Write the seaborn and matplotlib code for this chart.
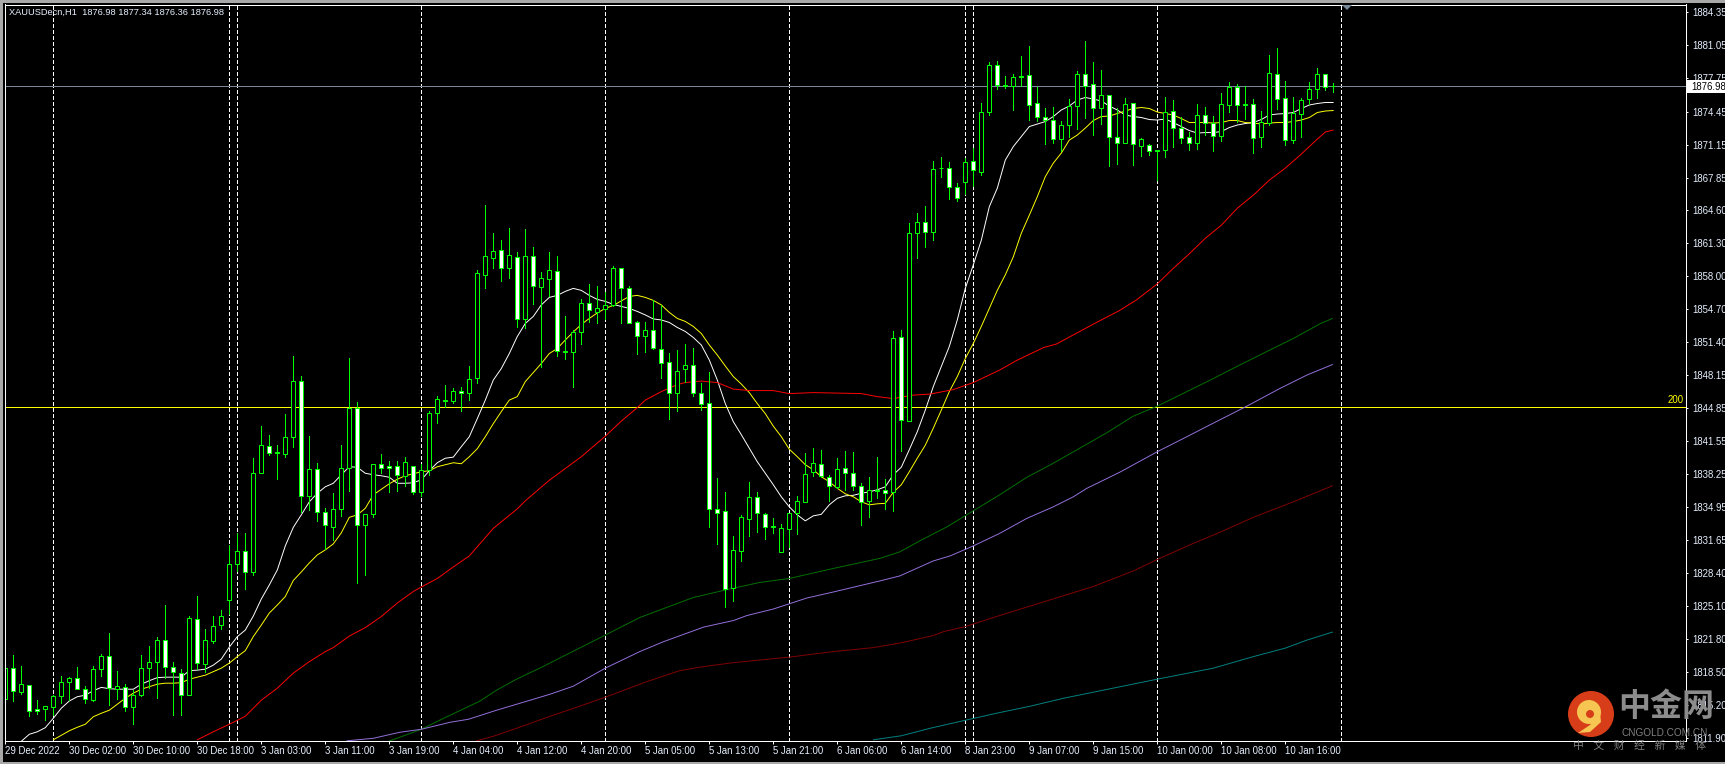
import matplotlib
matplotlib.use("Agg")
import matplotlib.pyplot as plt
from matplotlib.patches import Circle, Rectangle, Polygon
import numpy as np
import pandas as pd
import seaborn as sns

# ---------- candles (XAUUSD H1) ----------
open_ = [1815.78,1818.94,1816.55,1817.25,1814.79,1814.79,1814.99,1816.15,1817.55,1817.88,1816.85,1815.72,1818.78,1820.07,1816.85,1817.05,1814.99,1816.18,1818.88,1819.48,
1821.67,1818.98,1818.44,1816.18,1823.84,1819.28,1821.57,1823.17,1825.67,1829.26,1830.62,1828.46,1838.41,1841.10,1840.44,1840.30,1841.99,1847.51,1836.05,1838.81,
1834.45,1833.02,1834.75,1838.84,1844.82,1833.15,1834.31,1839.24,1839.04,1839.04,1838.04,1839.11,1836.44,1838.64,1844.32,1845.65,1845.59,1846.60,1846.38,1847.81,
1858.16,1859.86,1860.59,1858.79,1859.89,1853.70,1859.99,1856.90,1857.76,1858.49,1850.54,1850.41,1852.41,1855.30,1854.40,1854.70,1855.11,1858.80,1856.80,1853.41,
1852.01,1852.61,1850.72,1849.42,1846.33,1848.72,1849.12,1846.33,1845.33,1834.75,1834.55,1826.86,1830.62,1833.82,1835.95,1834.25,1833.05,1830.52,1832.75,1834.35,
1835.45,1838.51,1839.24,1837.94,1837.01,1838.84,1838.34,1837.04,1835.55,1836.68,1836.64,1836.44,1851.91,1843.53,1862.29,1863.39,1862.39,1868.85,1868.85,1866.95,
1867.38,1869.54,1868.45,1874.37,1879.13,1877.13,1876.96,1877.96,1878.06,1875.27,1873.87,1873.57,1871.67,1873.07,1874.97,1878.16,1877.16,1874.77,1876.06,1871.87,
1871.27,1875.27,1871.04,1871.14,1870.64,1870.64,1874.47,1872.77,1871.87,1871.27,1874.07,1873.27,1871.97,1875.07,1876.86,1875.17,1875.17,1871.87,1873.27,1878.16,
1875.77,1871.57,1874.17,1875.67,1876.66,1878.16,1876.98]
high = [1819.81,1820.21,1819.11,1817.25,1815.72,1815.08,1816.22,1818.11,1817.98,1819.01,1817.15,1819.11,1820.31,1822.37,1818.61,1817.28,1816.71,1820.18,1821.11,1822.00,
1825.20,1819.51,1818.78,1824.10,1826.10,1822.84,1824.10,1824.70,1831.19,1832.42,1832.42,1839.84,1843.07,1842.17,1841.17,1844.26,1850.04,1848.05,1842.07,1839.37,
1834.85,1836.34,1841.17,1849.84,1845.45,1834.31,1839.24,1840.27,1839.61,1839.61,1839.94,1839.11,1839.31,1844.55,1846.05,1847.15,1846.82,1846.98,1849.05,1858.63,
1865.11,1862.29,1861.62,1862.79,1860.42,1862.69,1860.89,1858.39,1860.39,1860.02,1854.04,1852.64,1855.70,1857.23,1857.03,1856.43,1859.04,1858.80,1857.04,1853.55,
1853.48,1855.64,1855.14,1850.38,1850.65,1851.25,1850.85,1847.32,1848.42,1837.87,1836.48,1832.09,1834.18,1837.48,1836.48,1834.42,1833.88,1833.28,1834.35,1836.08,
1840.34,1840.87,1840.67,1838.17,1839.84,1840.57,1840.47,1837.34,1837.94,1839.94,1837.78,1852.55,1852.65,1863.29,1864.29,1865.02,1869.48,1869.91,1869.38,1867.28,
1869.84,1870.77,1875.27,1879.39,1879.46,1877.99,1878.19,1879.99,1880.99,1876.90,1874.80,1874.87,1873.50,1875.70,1878.49,1881.49,1879.39,1878.59,1876.06,1874.77,
1875.80,1875.27,1871.81,1871.21,1870.64,1875.90,1875.60,1873.87,1872.41,1875.20,1874.90,1873.97,1876.30,1877.40,1877.20,1876.96,1875.70,1874.47,1880.09,1880.79,
1877.50,1875.87,1875.77,1877.40,1878.79,1878.16,1877.34]
low = [1815.72,1815.62,1816.32,1814.12,1814.32,1813.72,1814.22,1815.45,1815.72,1816.78,1815.45,1815.62,1818.11,1815.22,1815.78,1814.62,1813.32,1816.12,1816.88,1815.95,
1817.88,1814.22,1814.22,1816.18,1818.84,1818.54,1821.37,1822.84,1824.27,1828.59,1826.83,1828.19,1838.41,1840.17,1837.81,1840.00,1840.99,1834.51,1834.68,1833.62,
1830.75,1831.69,1834.08,1836.61,1827.43,1828.19,1833.95,1838.41,1836.51,1836.61,1837.08,1836.28,1836.08,1838.17,1843.39,1844.99,1845.39,1844.59,1845.65,1847.38,
1856.86,1858.86,1857.53,1857.86,1852.97,1852.80,1855.23,1848.91,1856.07,1850.08,1849.71,1846.98,1851.27,1853.47,1853.30,1853.77,1855.04,1853.35,1853.31,1850.25,
1850.45,1850.72,1847.89,1843.76,1844.56,1847.46,1846.06,1844.66,1833.02,1831.32,1825.03,1825.63,1829.62,1832.09,1832.49,1831.82,1832.42,1830.52,1831.02,1832.32,
1835.45,1838.07,1837.94,1835.58,1836.91,1836.68,1836.68,1833.18,1833.98,1835.91,1834.81,1834.61,1840.60,1843.53,1859.86,1860.96,1861.63,1867.95,1865.72,1865.55,
1866.22,1867.02,1868.11,1874.14,1876.66,1876.83,1874.60,1877.00,1873.60,1873.54,1871.21,1871.34,1870.51,1871.87,1872.71,1873.84,1872.11,1873.20,1869.05,1869.24,
1871.27,1869.14,1870.01,1870.14,1867.61,1869.88,1870.94,1871.34,1870.61,1870.74,1872.11,1870.51,1871.51,1874.40,1873.37,1873.67,1870.31,1870.91,1873.07,1874.70,
1871.11,1871.31,1871.91,1875.17,1875.80,1876.60,1876.36]
close = [1818.88,1816.58,1817.28,1814.59,1814.65,1815.08,1816.08,1817.55,1817.88,1816.85,1815.78,1818.78,1820.07,1816.88,1817.08,1814.99,1816.18,1818.88,1819.48,1821.67,
1818.98,1818.48,1816.18,1823.87,1819.38,1821.67,1823.07,1824.07,1829.26,1830.55,1828.46,1838.34,1841.14,1840.34,1840.34,1841.93,1847.51,1836.05,1838.74,1834.45,
1833.15,1834.75,1838.91,1844.82,1833.15,1834.31,1839.24,1838.91,1838.91,1838.14,1839.44,1836.44,1838.64,1844.32,1845.72,1845.59,1846.60,1846.40,1847.78,1858.29,
1859.99,1860.49,1858.79,1860.09,1853.70,1859.99,1856.99,1857.79,1858.59,1850.51,1850.44,1852.41,1855.30,1854.60,1854.80,1855.10,1858.80,1856.80,1853.31,1852.01,
1852.61,1850.82,1849.32,1846.33,1848.52,1849.12,1846.33,1845.29,1834.75,1834.42,1826.83,1830.66,1833.95,1835.95,1834.35,1832.95,1832.95,1832.85,1834.35,1835.55,
1838.24,1839.34,1838.04,1837.04,1838.74,1838.34,1837.04,1835.45,1836.64,1836.61,1836.34,1851.81,1843.63,1862.29,1863.39,1862.39,1868.68,1868.78,1866.88,1865.78,
1869.44,1868.58,1874.37,1879.06,1877.13,1876.96,1877.93,1877.89,1875.07,1873.87,1873.57,1871.67,1873.07,1874.97,1878.16,1877.03,1874.77,1876.06,1871.87,1871.27,
1875.17,1871.17,1871.67,1870.48,1870.48,1874.37,1872.77,1871.77,1871.27,1874.07,1873.27,1871.97,1875.17,1876.86,1875.07,1875.07,1871.77,1873.37,1878.26,1875.67,
1871.57,1874.27,1875.57,1876.66,1878.16,1876.86,1876.98]

# ---------- moving averages ----------
white_start = 2
ma_white = [1811.60,1812.30,1812.55,1812.96,1813.90,1814.90,1815.62,1816.05,1816.20,1816.65,1816.98,1816.85,1816.80,1816.80,1816.80,1817.30,1817.65,1817.95,1818.00,1818.00,
1818.00,1818.65,1818.70,1818.80,1819.20,1819.80,1821.00,1822.04,1822.70,1824.10,1825.80,1827.20,1828.70,1831.10,1832.95,1834.20,1835.50,1836.35,1837.00,1837.35,
1838.20,1839.00,1838.95,1838.35,1838.20,1838.10,1837.95,1837.35,1837.35,1837.40,1837.70,1838.60,1839.40,1839.85,1839.96,1841.00,1842.00,1843.80,1845.65,1847.65,
1848.80,1850.30,1852.00,1853.30,1854.00,1855.15,1855.90,1856.10,1856.50,1856.80,1856.60,1856.10,1855.70,1855.50,1855.20,1855.00,1854.80,1854.50,1854.15,1853.75,
1853.65,1853.40,1852.90,1852.50,1851.90,1851.15,1849.65,1847.65,1845.30,1843.50,1842.20,1840.85,1839.50,1838.35,1837.20,1836.00,1835.00,1834.20,1833.60,1834.10,
1834.25,1835.20,1835.85,1836.10,1836.15,1836.35,1836.50,1836.70,1837.00,1838.20,1838.95,1840.70,1842.50,1844.65,1847.00,1849.00,1851.00,1853.65,1856.80,1859.15,
1861.60,1864.95,1866.80,1869.60,1870.95,1871.95,1872.95,1873.20,1873.45,1873.95,1874.60,1875.00,1875.60,1875.85,1875.70,1875.50,1875.00,1874.60,1874.10,1873.95,
1873.85,1873.65,1873.60,1873.70,1873.35,1872.95,1872.55,1872.30,1872.35,1872.35,1872.45,1872.85,1873.10,1873.25,1873.35,1873.65,1874.10,1874.20,1874.25,1874.35,
1874.75,1875.10,1875.25,1875.35,1875.35]
yellow_start = 6
ma_yellow = [1811.75,1812.20,1812.65,1813.00,1813.30,1814.05,1814.40,1814.70,1815.30,1815.90,1816.40,1816.80,1817.05,1817.30,1817.40,1817.40,1817.45,1817.80,1818.00,1818.20,
1818.55,1818.90,1819.40,1820.05,1820.65,1822.05,1823.20,1824.40,1825.20,1826.05,1827.65,1828.50,1829.40,1830.20,1830.70,1831.30,1832.40,1833.95,1834.20,1834.85,
1836.20,1836.75,1837.30,1837.75,1838.10,1838.30,1838.50,1838.60,1839.00,1839.20,1839.40,1839.30,1840.00,1840.80,1842.00,1843.30,1844.50,1845.65,1846.00,1847.50,
1848.40,1849.30,1850.30,1850.80,1851.65,1852.45,1853.20,1853.80,1854.35,1854.80,1855.10,1855.55,1856.00,1856.10,1855.90,1855.60,1855.15,1854.40,1853.80,1853.50,
1853.00,1852.30,1851.15,1850.15,1849.05,1848.00,1847.25,1846.40,1845.30,1844.30,1843.05,1842.00,1840.75,1840.00,1839.20,1838.70,1838.00,1837.50,1836.85,1836.30,
1836.00,1835.50,1835.20,1835.30,1835.35,1836.45,1837.20,1838.50,1839.85,1841.15,1842.85,1844.65,1846.50,1848.00,1849.80,1851.30,1853.00,1854.80,1856.60,1858.15,
1859.95,1862.30,1864.10,1865.95,1867.95,1869.30,1870.30,1871.60,1872.10,1872.80,1873.55,1873.95,1874.00,1874.25,1874.50,1874.75,1874.85,1874.75,1874.40,1874.25,
1874.10,1873.75,1873.35,1873.35,1873.35,1873.30,1873.35,1873.55,1873.55,1873.35,1873.30,1873.20,1873.30,1873.35,1873.35,1873.45,1873.60,1873.85,1874.35,1874.50,
1874.55]
red_idx = [24,26,28,30,32,34,36,38,40,41,43,45,47,49,51,52,54,56,58,61,64,65,68,72,75,77,79,80,82,84,85,87,89,91,93,96,98,101,107,109,111,113.5,115.6,118.5,121,124.3,126.4,129.8,131.4,134.3,136.4,139.3,141.4,144,146,148,150,152,154,156,158,160,162,164,165,166]
ma_red = [1811.75,1812.55,1813.30,1814.10,1815.70,1816.90,1818.40,1819.55,1820.55,1820.95,1822.10,1822.95,1824.05,1825.40,1826.55,1827.00,1827.85,1829.00,1830.10,1832.85,1834.80,1835.60,1837.65,1840.00,1842.05,1843.55,1844.90,1845.65,1846.50,1847.20,1847.40,1847.55,1847.40,1846.75,1846.60,1846.60,1846.30,1846.40,1846.30,1846.00,1845.80,1846.15,1846.25,1846.70,1847.40,1848.65,1849.60,1850.90,1851.25,1852.50,1853.40,1854.60,1855.65,1857.25,1858.80,1860.25,1861.80,1863.10,1864.80,1866.10,1867.60,1868.80,1870.20,1871.70,1872.40,1872.60]
green_idx = [47.9,49.3,52,54.8,59.3,61.4,63.9,66.8,75,79.3,82.3,86,90,94.3,98,103.5,109.3,111.8,114.3,117.7,121,124.3,127.7,131,134.3,137.7,141,144,147.7,151,154.3,157.7,161,164.3,165.9]
ma_green = [1811.60,1812.00,1812.80,1813.90,1815.60,1816.70,1817.80,1818.90,1822.20,1823.95,1824.85,1825.95,1826.70,1827.45,1827.85,1828.85,1829.85,1830.50,1831.60,1833.00,1834.60,1836.20,1837.95,1839.35,1840.85,1842.40,1844.05,1845.05,1846.50,1847.80,1849.15,1850.50,1851.80,1853.25,1853.80]
purple_idx = [42.7,46,49.3,52,55.6,57.9,61.4,65.6,68.1,71,75,79.3,82.3,87.3,91,92.7,96,100.2,103.5,109.3,111.8,116,118.1,121,124.3,127.7,131,133.5,135.2,139.3,144,147.7,151,155.2,159.3,162.7,165.9]
ma_purple = [1811.65,1811.90,1812.50,1812.80,1813.50,1813.80,1814.70,1815.70,1816.30,1817.10,1818.90,1820.55,1821.55,1823.00,1823.65,1824.15,1824.80,1825.90,1826.50,1827.60,1828.10,1829.60,1830.10,1831.10,1832.35,1833.85,1835.00,1836.00,1836.85,1838.45,1840.50,1842.00,1843.35,1845.05,1846.80,1848.15,1849.20]
maroon_idx = [58.9,61,63.9,68.1,71.8,75,80,84.3,86.8,91,98,103.5,108.5,111.8,116,117.3,120,123.9,128.1,136,138.1,141,144,148.5,151.8,156,161,163,165.9]
ma_maroon = [1811.65,1812.10,1812.90,1814.10,1815.10,1816.00,1817.50,1818.65,1819.00,1819.45,1820.00,1820.55,1820.95,1821.40,1822.15,1822.55,1823.05,1824.05,1825.10,1827.05,1827.70,1828.60,1829.75,1831.35,1832.45,1833.95,1835.50,1836.15,1837.10]
teal_idx = [108.5,112,115.6,120,123.9,128.1,132.3,136,144,151,156,160,162.7,165.9]
ma_teal = [1811.75,1812.15,1812.90,1813.70,1814.40,1815.10,1815.90,1816.50,1817.80,1818.90,1820.05,1820.90,1821.70,1822.50]

# ---------- levels, separators, labels ----------
current_price = 1876.98
level_200 = 1845.0
separators = [6,28,29,52,75,98,120,121,144,167]
price_ticks = [1884.35,1881.05,1877.75,1874.45,1871.15,1867.85,1864.60,1861.30,1858.00,1854.70,1851.40,1848.15,1844.85,1841.55,1838.25,1834.95,1831.65,1828.40,1825.10,1821.80,1818.50,1815.20,1811.90]
time_labels = ["29 Dec 2022","30 Dec 02:00","30 Dec 10:00","30 Dec 18:00","3 Jan 03:00","3 Jan 11:00","3 Jan 19:00","4 Jan 04:00","4 Jan 12:00","4 Jan 20:00","5 Jan 05:00","5 Jan 13:00","5 Jan 21:00","6 Jan 06:00","6 Jan 14:00","8 Jan 23:00","9 Jan 07:00","9 Jan 15:00","10 Jan 00:00","10 Jan 08:00","10 Jan 16:00"]
header = "XAUUSDecn,H1  1876.98 1877.34 1876.36 1876.98"

# ---------- figure ----------
sns.set_theme(style="dark", rc={"figure.facecolor":"black","axes.facecolor":"black","axes.edgecolor":"white","axes.linewidth":0.72})
plt.rcParams["font.family"] = ["Liberation Sans","DejaVu Sans"]
W, H = 1725, 764
PX = 0.72
fig = plt.figure(figsize=(W/100, H/100), dpi=100, facecolor="black")
L, R, T, B = 4.5, 1685.7, 4.5, 741.3
ax = fig.add_axes([L/W, 1-B/H, (R-L)/W, (B-T)/H])
ax.set_xlim(-0.1, 210.05)
ax.set_ylim(1811.6, 1885.13)

def px(x, y):
    return x/W, 1-y/H

# borders of the terminal window
for rect in [(0,0,W,2.5),(0,0,2.5,H),(0,761.5,W,2.5)]:
    fig.patches.append(Rectangle(px(rect[0], rect[1]+rect[3]), rect[2]/W, rect[3]/H, transform=fig.transFigure, fc="#a8a8a8", ec="none"))

# separators
for s in separators:
    ax.axvline(s, color="white", lw=PX, ls=(0,(3,2.2)), zorder=1, antialiased=False)

# level lines
ax.axhline(level_200, color="#ffff00", lw=PX, zorder=1.5, antialiased=False)
ax.axhline(current_price, color="#778899", lw=PX, zorder=1.5, antialiased=False)

# moving averages through seaborn
series = [
    ("white", list(range(white_start, white_start+len(ma_white))), ma_white),
    ("#ffff00", list(range(yellow_start, yellow_start+len(ma_yellow))), ma_yellow),
    ("#ff0000", red_idx, ma_red),
    ("#007000", green_idx, ma_green),
    ("#9370db", purple_idx, ma_purple),
    ("#800000", maroon_idx, ma_maroon),
    ("#008080", teal_idx, ma_teal),
]
for col, idx, vals in series:
    d = pd.DataFrame({"bar": idx, "price": vals})
    sns.lineplot(data=d, x="bar", y="price", color=col, lw=0.7, ax=ax, estimator=None, sort=False, zorder=2, legend=False)

# candles
df = pd.DataFrame({"open":open_, "high":high, "low":low, "close":close})
df["bar"] = np.arange(len(df))
up = df.close >= df.open
ax.vlines(df.bar, df.low, df.high, color="#00ff00", lw=PX, zorder=3, antialiased=False)
body_lo = df[["open","close"]].min(axis=1)
body_hi = df[["open","close"]].max(axis=1)
ax.bar(df.bar, body_hi-body_lo, bottom=body_lo, width=0.5,
       color=np.where(up, "black", "white"), edgecolor="#00ff00", linewidth=PX, zorder=3.5)

# axes furniture
ax.set_xlabel(""); ax.set_ylabel("")
ax.grid(False)
for sp in ax.spines.values():
    sp.set_color("white"); sp.set_linewidth(PX); sp.set_zorder(5)
ax.set_xticks(np.arange(len(time_labels))*8)
ax.set_xticklabels(time_labels, ha="left", fontsize=6.9, color="#e6f0ff")
ax.set_yticks(price_ticks)
ax.set_yticklabels([f"{p:.2f}" for p in price_ticks], fontsize=6.9, color="#e6f0ff")
ax.tick_params(axis="x", bottom=True, length=2.4, width=PX, color="white", pad=1.2)
ax.tick_params(axis="y", left=False, right=True, labelleft=False, labelright=True, length=1.6, width=PX, color="white", pad=3.0)

fig.text(*px(9, 12.5), header, fontsize=6.65, color="#e6f0ff", va="center", ha="left")
fig.text(*px(1684, 400), "200", fontsize=6.9, color="#ffff00", va="center", ha="right", zorder=6)

# current price tag
fig.patches.append(Rectangle(px(1687, 92.5), 38/W, 12.5/H, transform=fig.transFigure, fc="white", ec="none", zorder=6))
fig.text(*px(1691.7, 86.5), f"{current_price:.2f}", fontsize=6.9, color="black", va="center", ha="left", zorder=7)

# drag marker at the top of the chart
fig.patches.append(Polygon([px(1342,5), px(1352,5), px(1347,10)], closed=True, transform=fig.transFigure, fc="#778899", ec="none", zorder=6))

# watermark
ax_logo = fig.add_axes([0,0,1,1], facecolor="none")
ax_logo.set_xlim(0,W); ax_logo.set_ylim(H,0); ax_logo.axis("off")
ax_logo.add_patch(Circle((1591,714), 23, fc="#d63d18", ec="none"))
ax_logo.add_patch(Circle((1589,712), 12, fc="#f6c552", ec="none"))
ax_logo.add_patch(Polygon([(1600,712),(1601,722),(1590,732),(1578,733),(1590,725)], closed=True, fc="#f6c552", ec="none"))
ax_logo.add_patch(Circle((1590,714), 4, fc="#d63d18", ec="none"))
cjk = ["Noto Sans CJK SC","DejaVu Sans"]
ax_logo.text(1666, 707, "中金网", family=cjk, fontsize=23, fontweight="bold", color="#8c8c8c", ha="center", va="center")
ax_logo.text(1664.5, 733, "CNGOLD.COM.CN", fontsize=7.2, color="#808080", ha="center", va="center")
ax_logo.text(1639.5, 746, "中    文    财    经    新    媒    体", family=cjk, fontsize=7.8, color="#808080", ha="center", va="center")

fig.savefig("out.png", dpi=100, facecolor="black")
